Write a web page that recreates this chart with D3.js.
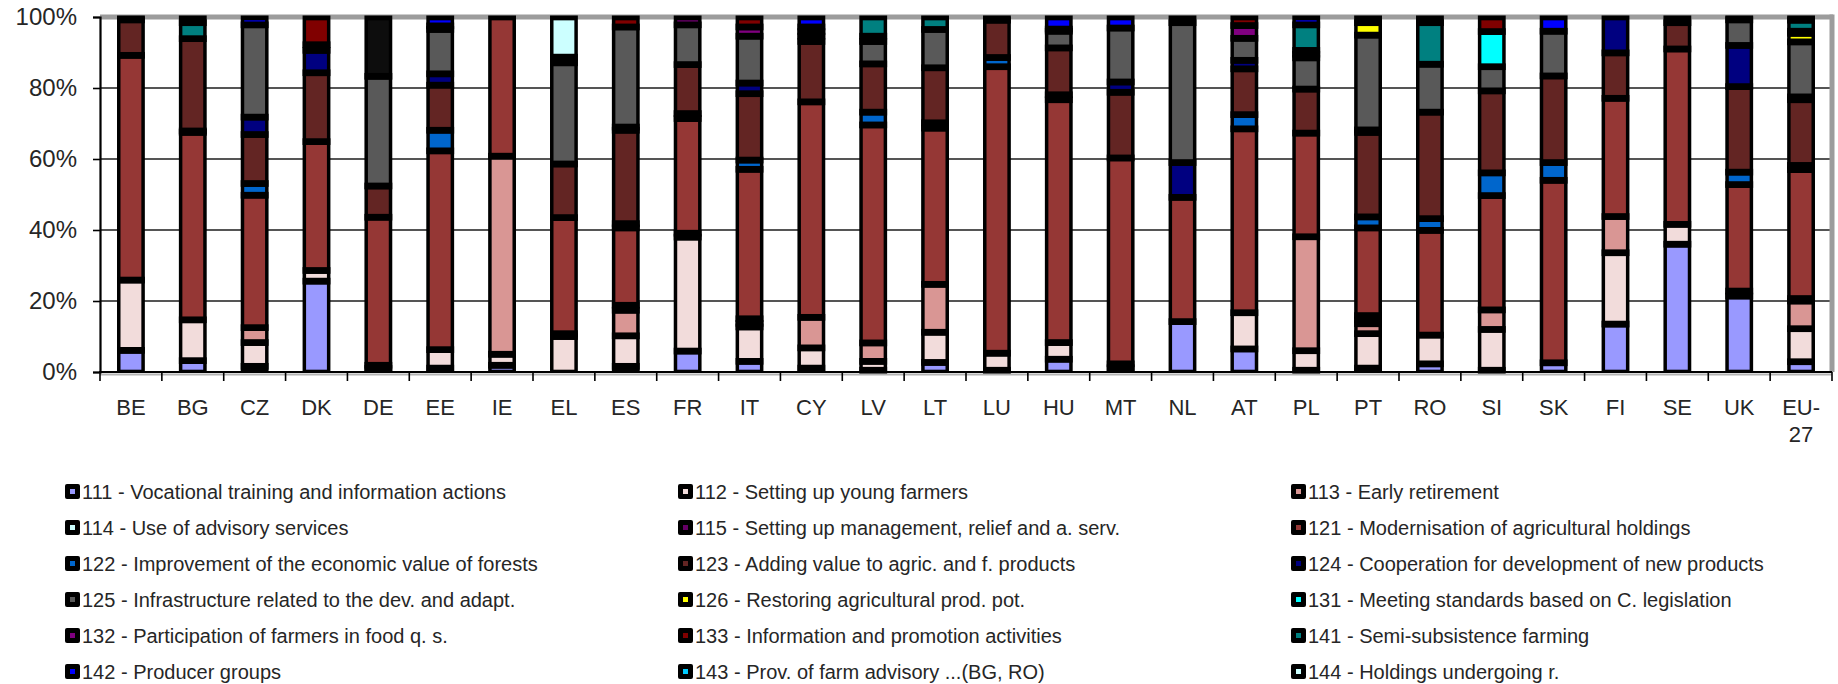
<!DOCTYPE html>
<html>
<head>
<meta charset="utf-8">
<script src="https://cdn.jsdelivr.net/npm/d3@7"></script>
<style>
  html, body { margin: 0; padding: 0; background: #ffffff; }
  svg { display: block; font-family: "Liberation Sans", Arial, sans-serif; }
</style>
</head>
<body>
<svg id="chart" width="1838" height="684"></svg>
<script>
// Member states (and EU-27 total) along the x axis
const categories = ["BE","BG","CZ","DK","DE","EE","IE","EL","ES","FR","IT","CY","LV","LT",
                    "LU","HU","MT","NL","AT","PL","PT","RO","SI","SK","FI","SE","UK","EU-27"];

// Measure codes, stacked bottom to top
const measureCodes = ["111","112","113","114","115","121","122","123","124","125",
                      "126","131","132","133","141","142","143","144"];

const measureNames = [
  "111 - Vocational training and information actions",
  "112 - Setting up young farmers",
  "113 - Early retirement",
  "114 - Use of advisory services",
  "115 - Setting up management, relief and a. serv.",
  "121 - Modernisation of agricultural holdings",
  "122 - Improvement of the economic value of forests",
  "123 - Adding value to agric. and f. products",
  "124 - Cooperation for development of new products",
  "125 - Infrastructure related to the dev. and adapt.",
  "126 - Restoring agricultural prod. pot.",
  "131 - Meeting standards based on C. legislation",
  "132 - Participation of farmers in food q. s.",
  "133 - Information and promotion activities",
  "141 - Semi-subsistence farming",
  "142 - Producer groups",
  "143 - Prov. of farm advisory ...(BG, RO)",
  "144 - Holdings undergoing r."
];

const measureColors = ["#9999FF","#F2DCDB","#D99694","#CCFFFF","#660066","#953735","#0066CC","#632523","#000080",
                       "#595959","#FFFF00","#00FFFF","#800080","#800000","#008080","#0000FF","#00CCFF","#CCFFFF"];

// Share of each measure in the country's axis 1 budget (%), one value per category
const m111 = [6.1,3.2,1.6,25.6,1.0,1.1,1.9,0,1.6,5.9,3.0,1.1,0.5,2.7,0.5,3.6,1.2,14.2,6.5,0.5,1.1,2.3,0.5,2.6,13.5,36.0,21.4,2.9];
const m112 = [19.8,11.5,6.7,3.0,0,5.2,3.1,10.0,8.6,32.1,9.7,5.7,2.5,8.5,4.8,4.7,1.1,0,10.2,5.5,9.7,8.1,11.5,0,20.1,5.6,0,9.3];
const m113 = [0,0,4.2,0,0,0,55.8,0.8,7.2,1.1,0,8.6,5.2,13.5,0,0,0,0,0,32.1,2.8,0,5.5,0,10.2,0,0,7.8];
const m114 = [0,0,0,0,0.9,0,0,0,0,0,1.0,0,0,0,0,0,0,0,0,0,1.1,0,0,0,0,0,1.4,0];
const m115 = [0,0,0,0,0,0,0,0,1.4,0,1.3,0,0,0,0,0,0,0,0,0,1.2,0,0,0,0,0,0,0.7];
const m121 = [63.3,52.8,37.3,36.3,41.7,56.0,39.2,32.7,21.8,32.3,42.1,60.7,61.4,44.0,80.7,68.4,58.0,35.0,51.8,29.2,24.7,29.5,32.2,51.4,33.3,49.4,30.0,36.3];
const m122 = [0,0.4,3.3,0,0,5.8,0,0,1.2,1.4,2.6,0,3.6,1.5,2.6,1.4,0,0,4.0,0,3.1,3.3,6.4,5.0,0,0,3.5,1.2];
const m123 = [10.0,26.0,13.8,19.4,8.8,12.7,0,15.1,26.3,13.8,18.7,17.0,13.6,15.5,10.5,13.2,18.5,0,12.9,12.4,23.8,30.0,23.1,24.4,12.8,7.4,24.1,18.5];
const m124 = [0,0,4.9,6.3,0,3.2,0,0,0.9,0,3.0,1.5,0,0,0,0,2.9,9.8,2.4,0,0.7,0,0,0,10.1,0,11.6,0.8];
const m125 = [0.8,0,26.0,1.6,30.9,12.5,0,28.5,28.2,11.2,13.2,1.3,6.3,10.8,0,4.7,15.2,39.4,6.2,8.8,26.7,13.5,6.8,12.6,0,1.6,7.2,15.5];
const m126 = [0,0,0,0,16.7,0,0,0,0,0,0,0,0,0,0,0,0,0,0,0,3.5,0,0,0,0,0,0,2.4];
const m131 = [0,0,0,0,0,0,0,0,0,0,0,0,0,0,0,0,0,0,0,0,0,0,9.9,0,0,0,0,0];
const m132 = [0,0,0,0,0,0,0,0,0,2.2,2.6,0,0,0,0,0,0,0,3.6,1.0,0,0,0,0,0,0,0,0];
const m133 = [0,0,0,7.8,0,1.0,0,1.6,2.8,0,2.8,1.3,1.5,0,0.9,0.6,0,1.6,2.4,1.1,1.6,0,4.1,0,0,0,0.8,0.6];
const m141 = [0,4.5,0,0,0,0,0,0,0,0,0,0,5.4,3.5,0,0,0,0,0,7.2,0,11.7,0,0,0,0,0,3.1];
const m142 = [0,0,2.2,0,0,2.5,0,0,0,0,0,2.8,0,0,0,3.4,3.1,0,0,2.2,0,0,0,4.0,0,0,0,0.9];
const m143 = [0,1.6,0,0,0,0,0,0,0,0,0,0,0,0,0,0,0,0,0,0,0,1.6,0,0,0,0,0,0];
const m144 = [0,0,0,0,0,0,0,11.3,0,0,0,0,0,0,0,0,0,0,0,0,0,0,0,0,0,0,0,0];

const yTicks = [0,20,40,60,80,100];

// Data points whose fill differs from the series colour
const pointFillOverrides = [{ category: "DE", code: "126", fill: "#0d0d0d" }];

const seriesValues = [m111,m112,m113,m114,m115,m121,m122,m123,m124,m125,m126,m131,m132,m133,m141,m142,m143,m144];

// Build row table for d3.stack
const rows = categories.map((c, i) => {
  const r = { category: c };
  measureCodes.forEach((code, k) => { r[code] = seriesValues[k][i]; });
  return r;
});

const svg = d3.select("#chart");
const margin = { left: 100, right: 1832, top: 17, bottom: 372 };

const x = d3.scaleBand().domain(categories).range([margin.left, margin.right]);
const y = d3.scaleLinear().domain([0, 100]).range([margin.bottom, margin.top]);
const color = d3.scaleOrdinal().domain(measureCodes).range(measureColors);

// Gridlines
svg.append("g").selectAll("line")
  .data(yTicks.filter(t => t > 0 && t < 100))
  .join("line")
  .attr("x1", margin.left).attr("x2", margin.right)
  .attr("y1", d => y(d)).attr("y2", d => y(d))
  .attr("stroke", "#1c1c1c").attr("stroke-width", 1.6);

// Plot frame (top and right)
svg.append("line")
  .attr("x1", margin.left).attr("x2", margin.right + 1)
  .attr("y1", y(100)).attr("y2", y(100))
  .attr("stroke", "#9c9c9c").attr("stroke-width", 5);
svg.append("line")
  .attr("x1", margin.right).attr("x2", margin.right)
  .attr("y1", y(100) - 2.5).attr("y2", y(0))
  .attr("stroke", "#9c9c9c").attr("stroke-width", 5);

// soft shade under the category axis
svg.append("line")
  .attr("x1", margin.left).attr("x2", margin.right)
  .attr("y1", y(0) + 2.5).attr("y2", y(0) + 2.5)
  .attr("stroke", "#b4b4b4").attr("stroke-width", 2);

// Stacked bars
const stacked = d3.stack().keys(measureCodes)(rows);
const barW = x.bandwidth() * 0.45;
const padX = 3.5, padY = 3.35, padBottom = 2.3;

const layer = svg.append("g").selectAll("g")
  .data(stacked)
  .join("g");

const segs = layer.selectAll("g")
  .data(s => s.map(d => ({ key: s.key, y0: d[0], y1: d[1], category: d.data.category })).filter(d => d.y1 - d.y0 > 0))
  .join("g");

function fillOf(d) {
  const o = pointFillOverrides.find(p => p.category === d.category && p.code === d.key);
  return o ? o.fill : color(d.key);
}

// black outline block
segs.append("rect")
  .attr("x", d => x(d.category) + (x.bandwidth() - barW) / 2)
  .attr("width", barW)
  .attr("y", d => Math.max(y(d.y1) - padY, y(100) - 1.5))
  .attr("height", d => {
    const top = Math.max(y(d.y1) - padY, y(100) - 1.5);
    const bottom = d.y0 <= 0 ? y(0) : y(d.y0) + padY;
    return bottom - top;
  })
  .attr("fill", "#000");

// coloured fill
segs.append("rect")
  .attr("x", d => x(d.category) + (x.bandwidth() - barW) / 2 + padX)
  .attr("width", barW - 2 * padX)
  .attr("y", d => y(d.y1) + padY)
  .attr("height", d => {
    const bottom = d.y0 <= 0 ? y(0) - padBottom : y(d.y0) - padY;
    return Math.max(0, bottom - (y(d.y1) + padY));
  })
  .attr("fill", fillOf);

// Y axis
const yAxis = d3.axisLeft(y).tickValues(yTicks).tickFormat(d => d + "%").tickSize(7).tickPadding(16);
const gy = svg.append("g").attr("transform", `translate(${margin.left},0)`).call(yAxis);
gy.select(".domain").attr("stroke", "#000").attr("stroke-width", 2.2);
gy.selectAll(".tick line").attr("stroke", "#000").attr("stroke-width", 1.6);
gy.selectAll(".tick text")
  .attr("font-size", 24).attr("fill", "#262626")
  .attr("font-family", "'Liberation Sans', Arial, sans-serif");

// X axis line and tick marks at band boundaries
svg.append("line")
  .attr("x1", margin.left - 1).attr("x2", margin.right)
  .attr("y1", y(0)).attr("y2", y(0))
  .attr("stroke", "#000").attr("stroke-width", 2.2);
const boundaries = categories.map(c => x(c)).concat([x.range()[1]]);
svg.append("g").selectAll("line")
  .data(boundaries)
  .join("line")
  .attr("x1", d => d).attr("x2", d => d)
  .attr("y1", y(0)).attr("y2", y(0) + 9)
  .attr("stroke", "#000").attr("stroke-width", 1.6);

// Category labels (EU-27 wraps after the hyphen)
const xl = svg.append("g").selectAll("text")
  .data(categories)
  .join("text")
  .attr("x", d => x(d) + x.bandwidth() / 2)
  .attr("y", 415)
  .attr("text-anchor", "middle")
  .attr("font-size", 22)
  .attr("fill", "#262626");
xl.each(function(d) {
  const parts = d.includes("-") ? [d.slice(0, d.indexOf("-") + 1), d.slice(d.indexOf("-") + 1)] : [d];
  d3.select(this).selectAll("tspan")
    .data(parts)
    .join("tspan")
    .attr("x", x(d) + x.bandwidth() / 2)
    .attr("dy", (p, i) => i === 0 ? 0 : 27)
    .text(p => p);
});

// Legend: 3 columns, row-major
const legendCols = [65, 678, 1291];
const legendRowY = 492, legendRowStep = 36;
const lg = svg.append("g").selectAll("g")
  .data(measureCodes)
  .join("g")
  .attr("transform", (d, i) => `translate(${legendCols[i % 3]},${legendRowY + Math.floor(i / 3) * legendRowStep})`);
lg.append("rect")
  .attr("x", 0).attr("y", -8).attr("width", 15).attr("height", 15)
  .attr("rx", 2).attr("fill", "#000");
lg.append("rect")
  .attr("x", 5).attr("y", -3).attr("width", 5).attr("height", 5)
  .attr("fill", d => color(d));
lg.append("text")
  .attr("x", 17).attr("y", 7)
  .attr("font-size", 20)
  .attr("fill", "#262626")
  .text((d, i) => measureNames[i]);
</script>
</body>
</html>
